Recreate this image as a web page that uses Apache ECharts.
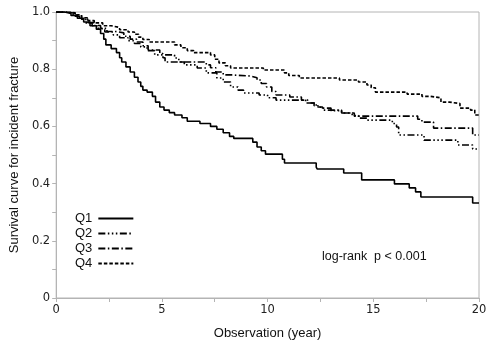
<!DOCTYPE html>
<html><head><meta charset="utf-8">
<script src="https://cdn.jsdelivr.net/npm/echarts@6/dist/echarts.min.js"></script>
<style>html,body{margin:0;padding:0;background:#fff}#c{width:490px;height:350px}</style>
</head><body><div id="c"></div>
<script>
const seriesNames = ['Q1','Q2','Q3','Q4'];
const q1 = [[0,1],[0.4,0.995],[0.7,0.988],[1.0,0.978],[1.3,0.965],[1.6,0.952],[1.9,0.94],[2.1,0.925],[2.25,0.905],[2.35,0.885],[2.6,0.872],[2.85,0.858],[3.0,0.84],[3.1,0.825],[3.3,0.808],[3.5,0.79],[3.7,0.772],[3.87,0.755],[4.0,0.74],[4.1,0.727],[4.3,0.72],[4.55,0.705],[4.7,0.685],[4.9,0.668],[5.1,0.657],[5.35,0.648],[5.6,0.64],[5.95,0.63],[6.2,0.618],[6.8,0.61],[7.3,0.6],[7.6,0.59],[7.9,0.578],[8.2,0.565],[8.4,0.558],[9.3,0.545],[9.5,0.528],[9.7,0.515],[9.9,0.503],[10.7,0.485],[10.8,0.472],[12.3,0.458],[12.35,0.451],[13.6,0.437],[14.45,0.413],[16.0,0.399],[16.7,0.385],[17.0,0.371],[17.25,0.353],[19.7,0.332],[20,0.332]];
const q2 = [[0,1],[0.5,0.995],[0.8,0.985],[1.1,0.975],[1.4,0.962],[1.7,0.952],[2.0,0.942],[2.3,0.93],[2.7,0.92],[3.0,0.91],[3.4,0.9],[3.7,0.89],[4.0,0.878],[4.3,0.865],[4.66,0.85],[5.6,0.839],[5.8,0.825],[6.06,0.815],[6.67,0.804],[7.1,0.787],[7.6,0.769],[7.9,0.755],[8.25,0.738],[8.6,0.727],[8.86,0.717],[9.6,0.71],[10.0,0.7],[10.4,0.692],[11.8,0.682],[12.2,0.672],[12.5,0.664],[13.0,0.655],[13.5,0.647],[14.0,0.638],[14.3,0.629],[14.7,0.622],[15.9,0.61],[16.1,0.598],[16.2,0.57],[17.4,0.552],[19.0,0.535],[19.7,0.521],[20,0.521]];
const q3 = [[0,1],[0.6,0.995],[0.9,0.987],[1.2,0.975],[1.5,0.963],[1.8,0.953],[2.1,0.943],[2.4,0.932],[2.8,0.927],[3.2,0.915],[3.5,0.905],[3.8,0.895],[4.1,0.882],[4.35,0.867],[4.9,0.855],[5.05,0.84],[5.15,0.825],[7.1,0.815],[7.3,0.805],[7.55,0.79],[7.9,0.78],[8.3,0.776],[9.2,0.77],[9.5,0.762],[9.7,0.75],[9.95,0.738],[10.2,0.722],[10.4,0.71],[11.05,0.703],[11.6,0.692],[11.9,0.682],[12.3,0.668],[12.6,0.657],[13.5,0.647],[14.1,0.636],[17.1,0.625],[17.3,0.615],[17.85,0.594],[19.7,0.57],[20,0.57]];
const q4 = [[0,1],[0.6,0.997],[0.9,0.99],[1.2,0.98],[1.5,0.97],[1.8,0.962],[2.2,0.952],[2.6,0.946],[3.0,0.938],[3.4,0.93],[3.7,0.922],[3.9,0.912],[4.1,0.904],[4.4,0.895],[5.6,0.885],[5.9,0.875],[6.2,0.865],[6.5,0.858],[7.3,0.85],[7.5,0.835],[7.7,0.822],[8.0,0.812],[8.25,0.804],[9.8,0.797],[10.8,0.787],[11.0,0.778],[11.5,0.769],[13.4,0.762],[14.3,0.755],[14.7,0.745],[14.9,0.735],[15.1,0.72],[16.6,0.713],[17.3,0.705],[17.7,0.7],[18.2,0.685],[18.6,0.68],[19.1,0.664],[19.6,0.657],[19.8,0.64],[20,0.64]];
const xTicks = [0,5,10,15,20];
const yTicks = [0,0.2,0.4,0.6,0.8,1.0];
const annotation = 'log-rank  p < 0.001';

const dashes = {
  Q1: 'solid',
  Q2: [7,2.5,1.5,2.5,1.5,2.5,1.5,2.5],
  Q3: [7,2.5,1.5,2.5],
  Q4: [3.5,2]
};
const allData = [q1,q2,q3,q4];
const chart = echarts.init(document.getElementById('c'), null, {renderer:'canvas'});
const axisCol = '#b4b4b4';
const labelFont = {color:'#222', fontSize:11.5, fontFamily:'DejaVu Sans'};
chart.setOption({
  animation:false,
  grid:{left:50,right:11,top:12,bottom:52,show:true,borderColor:axisCol,borderWidth:1},
  xAxis:{type:'value',min:0,max:20,interval:5,
    name:'Observation (year)',nameLocation:'middle',nameGap:29,
    nameTextStyle:{color:'#111',fontSize:13,fontFamily:'Liberation Sans'},
    axisLine:{lineStyle:{color:axisCol}},
    axisTick:{show:true,length:4,lineStyle:{color:axisCol}},
    minorTick:{show:true,splitNumber:2,length:4,lineStyle:{color:axisCol}},
    splitLine:{show:false},
    axisLabel:Object.assign({margin:6,formatter:v=>xTicks.includes(v)?String(v):''},labelFont)},
  yAxis:{type:'value',min:0,max:1,interval:0.2,
    name:'Survival curve for incident fracture',nameLocation:'middle',nameGap:33,nameRotate:90,
    nameTextStyle:{color:'#111',fontSize:13,fontFamily:'Liberation Sans'},
    axisLine:{show:true,lineStyle:{color:axisCol}},
    axisTick:{show:true,length:4,lineStyle:{color:axisCol}},
    minorTick:{show:true,splitNumber:2,length:4,lineStyle:{color:axisCol}},
    splitLine:{show:false},
    axisLabel:Object.assign({margin:6,formatter:v=>{const t=yTicks.find(y=>Math.abs(y-v)<1e-6);return t===undefined?'':(t===0?'0':t.toFixed(1));}},labelFont)},
  legend:{orient:'vertical',left:70,top:207,align:'right',itemWidth:35,itemHeight:10,itemGap:2,
    itemStyle:{opacity:0},
    textStyle:{color:'#111',fontSize:13,fontFamily:'Liberation Sans',padding:[0,1,0,0]},
    data:seriesNames},
  graphic:[{type:'text',left:322,top:250,style:{text:annotation,fill:'#111',font:'12.5px "Liberation Sans"'}}],
  series:seriesNames.map((n,i)=>({name:n,type:'line',step:'end',data:allData[i],
    symbol:'none',showSymbol:false,color:'#000',
    lineStyle:{color:'#000',width:1.6,type:dashes[n]}}))
});
</script></body></html>
